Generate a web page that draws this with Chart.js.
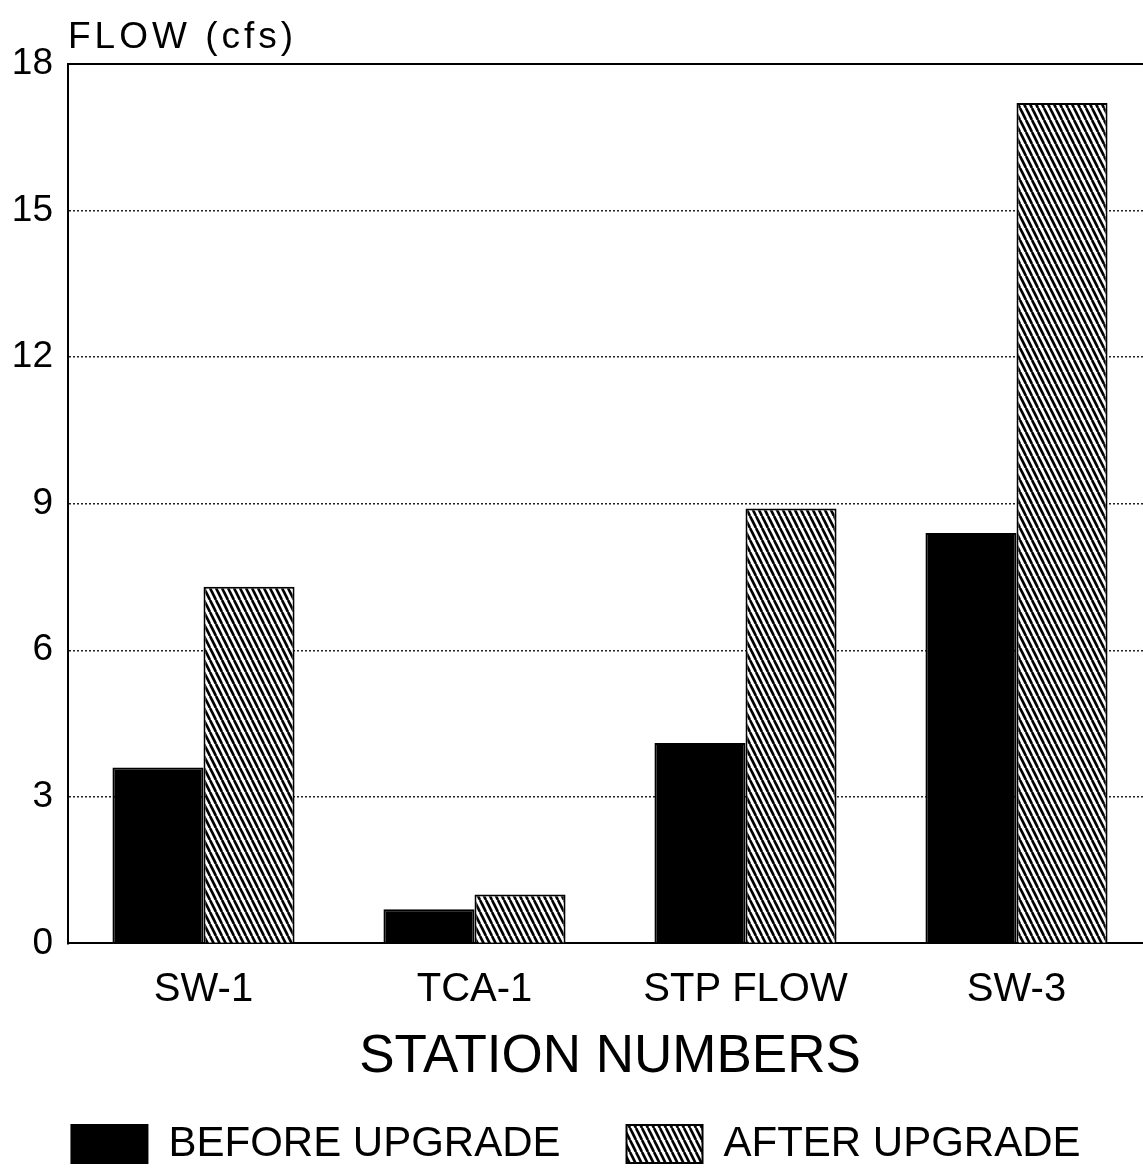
<!DOCTYPE html>
<html>
<head>
<meta charset="utf-8">
<title>Flow by station</title>
<script src="https://cdn.jsdelivr.net/npm/chart.js@4.4.1/dist/chart.umd.min.js"></script>
<style>
  html, body { margin: 0; padding: 0; background: #fff; overflow: hidden; }
  #wrap { width: 1143px; height: 1171px; overflow: hidden; }
  canvas { display: block; }
</style>
</head>
<body>
<div id="wrap">
  <canvas id="flowChart" width="1165" height="1171"></canvas>
</div>
<script>
// データ
const stations = ['SW-1', 'TCA-1', 'STP FLOW', 'SW-3'];
const beforeUpgrade = [3.6, 0.7, 4.1, 8.4];
const afterUpgrade = [7.3, 1.0, 8.9, 17.2];
const yMin = 0;
const yMax = 18;
const yStep = 3;

const FONT = '"Liberation Sans", Arial, sans-serif';
Chart.defaults.font.family = FONT;
Chart.defaults.color = '#000';

// 斜線パターン (\\\\)
function makeHatch() {
    const c = document.createElement('canvas');
    c.width = 6;
    c.height = 12;
    const g = c.getContext('2d');
    g.fillStyle = '#fff';
    g.fillRect(0, 0, 6, 12);
    g.strokeStyle = '#000';
    g.lineWidth = 2.6;
    for (let dx = -6; dx <= 6; dx += 6) {
        g.beginPath();
        g.moveTo(dx, 0);
        g.lineTo(dx + 6, 12);
        g.stroke();
    }
    return g.createPattern(c, 'repeat');
}
const hatch = makeHatch();

// 左上の単位ラベル
const unitLabel = {
    id: 'unitLabel',
    afterDraw(chart) {
        const { ctx, chartArea } = chart;
        ctx.save();
        ctx.font = '37px ' + FONT;
        ctx.letterSpacing = '4px';
        ctx.fillStyle = '#000';
        ctx.textAlign = 'left';
        ctx.textBaseline = 'alphabetic';
        ctx.fillText('FLOW (cfs)', chartArea.left, chartArea.top - 16);
        ctx.restore();
    }
};

const ctx = document.getElementById('flowChart').getContext('2d');
const flowChart = new Chart(ctx, {
    type: 'bar',
    data: {
        labels: stations,
        datasets: [
            {
                label: 'BEFORE UPGRADE',
                data: beforeUpgrade,
                backgroundColor: '#000',
                borderColor: '#000',
                borderWidth: 2
            },
            {
                label: 'AFTER UPGRADE',
                data: afterUpgrade,
                backgroundColor: hatch,
                borderColor: '#000',
                borderWidth: 2
            }
        ]
    },
    options: {
        responsive: false,
        animation: false,
        devicePixelRatio: 1,
        categoryPercentage: 0.672,
        barPercentage: 1.0,
        layout: {
            padding: { top: 64, right: 13, bottom: -4, left: 0 }
        },
        plugins: {
            tooltip: { enabled: false },
            legend: {
                position: 'bottom',
                labels: {
                    boxWidth: 76,
                    boxHeight: 38,
                    padding: 66,
                    font: { size: 42 }
                }
            }
        },
        scales: {
            x: {
                grid: { display: false, drawTicks: false },
                border: { display: true, color: '#000', width: 2 },
                ticks: { font: { size: 40 }, padding: 23 },
                title: {
                    display: true,
                    text: 'STATION NUMBERS',
                    font: { size: 53 },
                    padding: { top: -12, bottom: -32 }
                }
            },
            x2: {
                type: 'category',
                labels: stations,
                position: 'top',
                grid: { display: false, drawTicks: false },
                border: { display: true, color: '#000', width: 2 },
                ticks: { display: false }
            },
            y: {
                min: yMin,
                max: yMax,
                afterFit: (scale) => { scale.width = 68; },
                ticks: {
                    stepSize: yStep,
                    font: { size: 37 },
                    padding: 15
                },
                grid: {
                    drawTicks: false,
                    lineWidth: 1.5,
                    color: (c) => (c.tick && (c.tick.value === yMin || c.tick.value === yMax)) ? 'rgba(0,0,0,0)' : '#222'
                },
                border: { display: true, color: '#000', width: 2, dash: [2, 2] }
            }
        }
    },
    plugins: [unitLabel]
});
</script>
</body>
</html>
